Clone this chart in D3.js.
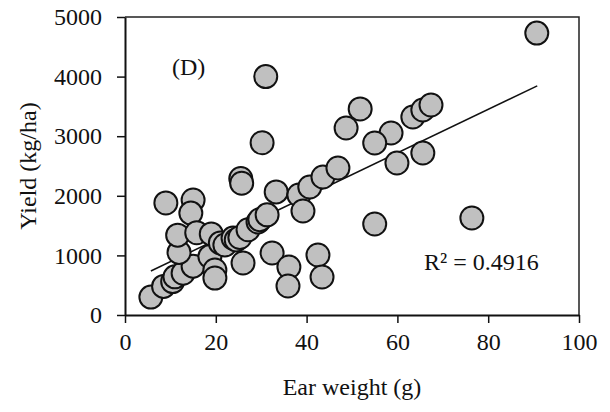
<!DOCTYPE html>
<html>
<head>
<meta charset="utf-8">
<script src="https://cdn.jsdelivr.net/npm/d3@7"></script>
<style>
  body { margin: 0; background: #fff; }
  text { font-family: "Liberation Serif", "Times New Roman", serif; fill: #111; }
</style>
</head>
<body>
<script>
// Ear weight (g) vs yield (kg/ha), panel D
var earWeight = [5.7, 8.5, 10.5, 11.0, 12.8, 15.0, 11.9, 18.7, 19.8, 19.8,
                 9.0, 15.0, 14.5, 11.6, 15.8, 19.0, 21.0, 22.0, 23.8, 24.5,
                 25.3, 27.1, 29.3, 29.7, 31.3, 26.0, 25.5, 25.7, 31.0, 30.2,
                 33.3, 38.3, 39.2, 40.7, 43.6, 46.9, 32.4, 36.1, 35.9, 42.5,
                 43.4, 55.0, 51.8, 48.7, 58.6, 55.0, 63.4, 65.6, 67.4, 59.9,
                 65.6, 76.4, 90.7];
var yieldVals = [300, 480, 560, 640, 700, 820, 1050, 980, 755, 620,
                 1880, 1930, 1710, 1340, 1380, 1360, 1210, 1175, 1290, 1260,
                 1300, 1430, 1560, 1600, 1680, 872, 2290, 2210, 4000, 2890,
                 2065, 2013, 1745, 2148, 2315, 2467, 1040, 805, 487, 1007,
                 638, 1527, 3457, 3138, 3054, 2886, 3322, 3440, 3524, 2550,
                 2718, 1628, 4730];
var xTicks = [0, 20, 40, 60, 80, 100];
var yTicks = [0, 1000, 2000, 3000, 4000, 5000];
// fitted line: yield = slope * x + intercept
var trendSlope = 36.5, trendIntercept = 530;
var trendRange = [5.7, 90.8];
var r2Label = "R\u00b2 = 0.4916";
var panelLabel = "(D)";

(function(){
  var width = 610, height = 412;
  var margin = {top: 17, right: 31, bottom: 97, left: 125};
  var w = width - margin.left - margin.right,
      h = height - margin.top - margin.bottom;

  var svg = d3.select("body").append("svg")
    .attr("width", width)
    .attr("height", height);

  var g = svg.append("g")
    .attr("transform", "translate(" + margin.left + "," + margin.top + ")");

  var x = d3.scaleLinear().domain([0, 100]).range([0, w]);
  var y = d3.scaleLinear().domain([0, 5000]).range([h, 0]);

  // frame (top + right)
  g.append("path")
    .attr("d", "M0,0H" + w + "V" + h)
    .attr("fill", "none")
    .attr("stroke", "#222")
    .attr("stroke-width", 1.5);

  // axes
  var xAxis = g.append("g")
    .attr("transform", "translate(0," + h + ")")
    .call(d3.axisBottom(x).tickValues(xTicks).tickFormat(d3.format("d"))
      .tickSize(8).tickPadding(10).tickSizeOuter(0));
  var yAxis = g.append("g")
    .call(d3.axisLeft(y).tickValues(yTicks).tickFormat(d3.format("d"))
      .tickSize(8).tickPadding(15).tickSizeOuter(0));

  [xAxis, yAxis].forEach(function(a){
    a.select(".domain").attr("stroke", "#111").attr("stroke-width", 2);
    a.selectAll(".tick line").attr("stroke", "#111").attr("stroke-width", 1.5);
    a.selectAll(".tick text")
      .attr("font-family", "Liberation Serif, Times New Roman, serif")
      .attr("font-size", 24)
      .attr("fill", "#111");
  });

  // trend line
  g.append("line")
    .attr("x1", x(trendRange[0]))
    .attr("y1", y(trendSlope * trendRange[0] + trendIntercept))
    .attr("x2", x(trendRange[1]))
    .attr("y2", y(trendSlope * trendRange[1] + trendIntercept))
    .attr("stroke", "#111")
    .attr("stroke-width", 1.5);

  // points
  var pts = earWeight.map(function(d, i){ return {x: d, y: yieldVals[i]}; });
  g.selectAll(".pt")
    .data(pts)
    .enter()
    .append("circle")
    .attr("class", "pt")
    .attr("cx", function(d){ return x(d.x); })
    .attr("cy", function(d){ return y(d.y); })
    .attr("r", 11.5)
    .attr("fill", "#c0c0c0")
    .attr("stroke", "#111")
    .attr("stroke-width", 2);

  // labels
  g.append("text")
    .attr("x", 47).attr("y", 58)
    .attr("font-size", 24)
    .text(panelLabel);

  g.append("text")
    .attr("x", 299).attr("y", 253)
    .attr("font-size", 24)
    .text(r2Label);

  svg.append("text")
    .attr("x", margin.left + w / 2)
    .attr("y", 395)
    .attr("text-anchor", "middle")
    .attr("font-size", 24)
    .text("Ear weight (g)");

  svg.append("text")
    .attr("transform", "translate(36," + (margin.top + h / 2) + ") rotate(-90)")
    .attr("text-anchor", "middle")
    .attr("font-size", 24)
    .text("Yield (kg/ha)");
})();
</script>
</body>
</html>
